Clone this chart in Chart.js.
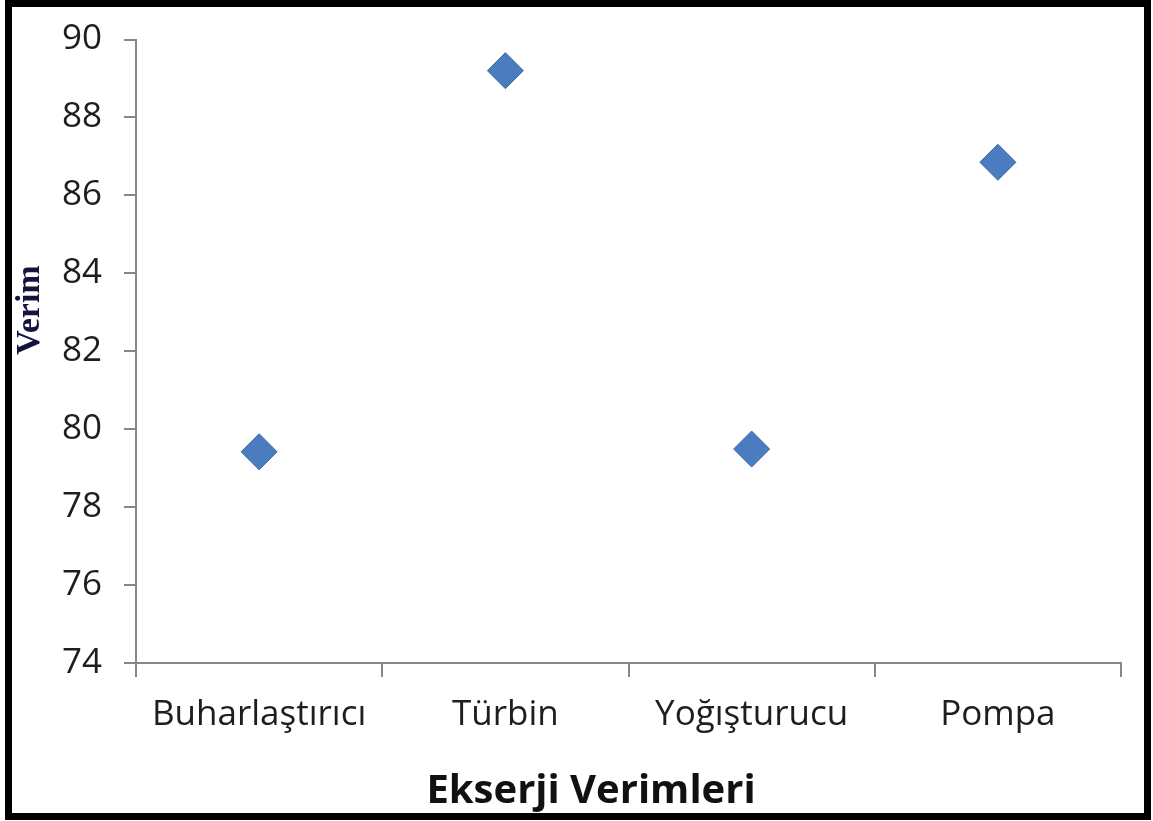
<!DOCTYPE html>
<html>
<head>
<meta charset="utf-8">
<script src="https://cdn.jsdelivr.net/npm/chart.js@4"></script>
<style>
html,body{margin:0;padding:0;background:#fff;}
#wrap{position:relative;width:1153px;height:821px;}
</style>
</head>
<body>
<div id="wrap"><canvas id="c" width="1153" height="821"></canvas></div>
<script>
const categories = ["Buharlaştırıcı", "Türbin", "Yoğışturucu", "Pompa"];
const efficiency = [79.42, 89.2, 79.49, 86.85];
const yTicks = [74, 76, 78, 80, 82, 84, 86, 88, 90];
const yTitle = "Verim";
const xTitle = "Ekserji Verimleri";

const axisGray = "#868686";

const decor = {
  id: "decor",
  afterDraw(chart) {
    const ctx = chart.ctx;
    ctx.save();
    // outer frame
    ctx.lineWidth = 7;
    ctx.strokeStyle = "#000";
    ctx.strokeRect(8.5, 3.5, 1139, 813);
    // x title
    ctx.fillStyle = "#111";
    ctx.font = "bold 40px 'Open Sans'";
    ctx.textAlign = "center";
    ctx.textBaseline = "alphabetic";
    ctx.fillText(xTitle, 591, 803);
    // y title
    ctx.translate(39, 310);
    ctx.rotate(-Math.PI / 2);
    ctx.fillStyle = "#14143c";
    ctx.font = "bold 34px 'Liberation Serif'";
    ctx.textAlign = "center";
    ctx.fillText(yTitle, 0, 0);
    ctx.restore();
  }
};

new Chart(document.getElementById("c"), {
  type: "line",
  data: {
    labels: categories,
    datasets: [{
      data: efficiency,
      showLine: false,
      pointStyle: "rectRot",
      pointRadius: 18,
      pointHoverRadius: 18,
      backgroundColor: "#4a7cbf",
      borderColor: "#3b68a3",
      borderWidth: 1
    }]
  },
  options: {
    responsive: false,
    animation: false,
    events: [],
    layout: { padding: { top: 39, right: 32, left: 0, bottom: 0 } },
    plugins: { legend: { display: false }, tooltip: { enabled: false } },
    scales: {
      x: {
        type: "category",
        offset: true,
        border: { color: axisGray, width: 2 },
        grid: { offset: true, drawOnChartArea: false, drawTicks: true, tickLength: 14, color: axisGray, lineWidth: 2 },
        ticks: { color: "#1e1e1e", font: { family: "'Open Sans'", size: 35 }, padding: 17, maxRotation: 0 },
        afterFit(s) { s.height = 158; }
      },
      y: {
        min: 74, max: 90,
        afterBuildTicks(s) { s.ticks = yTicks.map(v => ({ value: v })); },
        border: { color: axisGray, width: 2 },
        grid: { drawOnChartArea: false, drawTicks: true, tickLength: 12, color: axisGray, lineWidth: 2 },
        ticks: { color: "#1e1e1e", font: { family: "'Open Sans'", size: 35, lineHeight: 1 }, padding: 22 },
        afterFit(s) { s.width = 136; }
      }
    }
  },
  plugins: [decor]
});
</script>
</body>
</html>
